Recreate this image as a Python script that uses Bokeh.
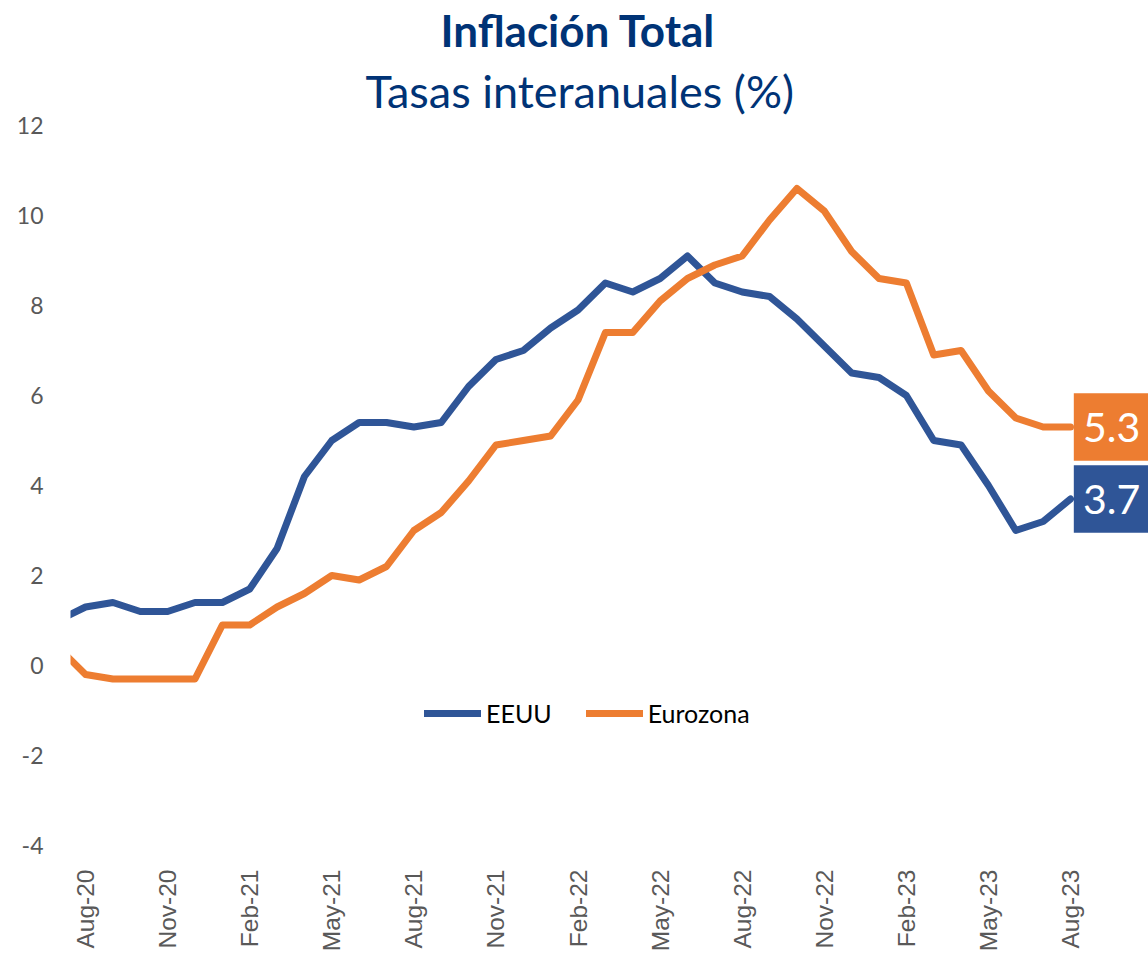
import math
from bokeh.plotting import figure
from bokeh.models import FixedTicker, Title, Legend, LegendItem, ColumnDataSource, Range1d
from bokeh.embed import file_html
from bokeh.resources import INLINE
from bokeh.core.properties import value

# ---- data ----
months = ["Jul-20", "Aug-20", "Sep-20", "Oct-20", "Nov-20", "Dec-20",
          "Jan-21", "Feb-21", "Mar-21", "Apr-21", "May-21", "Jun-21",
          "Jul-21", "Aug-21", "Sep-21", "Oct-21", "Nov-21", "Dec-21",
          "Jan-22", "Feb-22", "Mar-22", "Apr-22", "May-22", "Jun-22",
          "Jul-22", "Aug-22", "Sep-22", "Oct-22", "Nov-22", "Dec-22",
          "Jan-23", "Feb-23", "Mar-23", "Apr-23", "May-23", "Jun-23",
          "Jul-23", "Aug-23"]
eeuu = [1.0, 1.3, 1.4, 1.2, 1.2, 1.4,
        1.4, 1.7, 2.6, 4.2, 5.0, 5.4,
        5.4, 5.3, 5.4, 6.2, 6.8, 7.0,
        7.5, 7.9, 8.5, 8.3, 8.6, 9.1,
        8.5, 8.3, 8.2, 7.7, 7.1, 6.5,
        6.4, 6.0, 5.0, 4.9, 4.0, 3.0,
        3.2, 3.7]
eurozona = [0.4, -0.2, -0.3, -0.3, -0.3, -0.3,
            0.9, 0.9, 1.3, 1.6, 2.0, 1.9,
            2.2, 3.0, 3.4, 4.1, 4.9, 5.0,
            5.1, 5.9, 7.4, 7.4, 8.1, 8.6,
            8.9, 9.1, 9.9, 10.6, 10.1, 9.2,
            8.6, 8.5, 6.9, 7.0, 6.1, 5.5,
            5.3, 5.3]
tick_labels = ["Aug-20", "Nov-20", "Feb-21", "May-21", "Aug-21", "Nov-21",
               "Feb-22", "May-22", "Aug-22", "Nov-22", "Feb-23", "May-23", "Aug-23"]
y_ticks = [-4, -2, 0, 2, 4, 6, 8, 10, 12]

BLUE = "#2F5597"
ORANGE = "#ED7D31"
NAVY = "#003376"

# x positions: month index relative to first labelled month
xs = [months.index(m) - months.index("Aug-20") for m in months]
tick_pos = [xs[months.index(t)] for t in tick_labels]

src = ColumnDataSource(dict(x=xs, eeuu=eeuu, eurozona=eurozona))

p = figure(width=1148, height=956, output_backend="svg", toolbar_location=None,
           x_range=Range1d(-0.55, 38.85), y_range=Range1d(-4, 12),
           min_border_left=70, min_border_right=0, min_border_top=125,
           min_border_bottom=111, title=None)
p.outline_line_color = None
p.xgrid.visible = False
p.ygrid.visible = False
p.background_fill_color = "white"
p.border_fill_color = "white"

# axes
p.xaxis.ticker = FixedTicker(ticks=tick_pos)
p.xaxis.major_label_overrides = {t: l for t, l in zip(tick_pos, tick_labels)}
p.xaxis.major_label_orientation = math.pi / 2
p.xaxis.major_label_text_font = "Liberation Sans"
p.xaxis.major_label_text_font_size = "24.5px"
p.xaxis.major_label_text_color = "#595959"
p.xaxis.major_label_standoff = 18
p.xaxis.axis_line_color = None
p.xaxis.major_tick_line_color = None
p.xaxis.minor_tick_line_color = None

p.yaxis.ticker = FixedTicker(ticks=y_ticks)
p.yaxis.major_label_overrides = {t: str(t) for t in y_ticks}
p.yaxis.major_label_text_font = "Lato"
p.yaxis.major_label_text_font_size = "23px"
p.yaxis.major_label_text_color = "#595959"
p.yaxis.major_label_standoff = 21
p.yaxis.axis_line_color = None
p.yaxis.major_tick_line_color = None
p.yaxis.minor_tick_line_color = None

# lines
r_us = p.line("x", "eeuu", source=src, line_color=BLUE, line_width=7,
              line_join="round", line_cap="round")
r_ez = p.line("x", "eurozona", source=src, line_color=ORANGE, line_width=7,
              line_join="round", line_cap="round")

# end labels
last_x = xs[-1]
for val, col in ((eurozona[-1], ORANGE), (eeuu[-1], BLUE)):
    p.quad(left=last_x + 0.12, right=last_x + 4, bottom=val - 0.75, top=val + 0.75,
           fill_color=col, line_color=None)
    p.text(x=[last_x + 1.5], y=[val], text=[f"{val:.1f}"], text_color="white",
           text_font=value("Lato"), text_font_size="41px",
           text_align="center", text_baseline="middle")

# legend
legend = Legend(items=[LegendItem(label="EEUU", renderers=[r_us]),
                       LegendItem(label="Eurozona", renderers=[r_ez])],
                orientation="horizontal", location=(354, 117),
                label_text_font="Lato", label_text_font_size="25px",
                label_text_color="#000000", glyph_width=57, glyph_height=30,
                label_standoff=5, spacing=34, padding=0, margin=0,
                border_line_color=None, background_fill_alpha=0)
p.add_layout(legend, "center")

# titles
sub = Title(text="Tasas interanuales (%)", align="left", offset=295,
            text_font="Lato", text_font_size="45px", text_font_style="normal",
            text_color=NAVY, standoff=16)
main = Title(text="Inflación Total", align="left", offset=370,
             text_font="Lato", text_font_size="44px", text_font_style="bold",
             text_color=NAVY, standoff=-4)
p.add_layout(sub, "above")
p.add_layout(main, "above")

open("out.html", "w").write(file_html(p, INLINE))
